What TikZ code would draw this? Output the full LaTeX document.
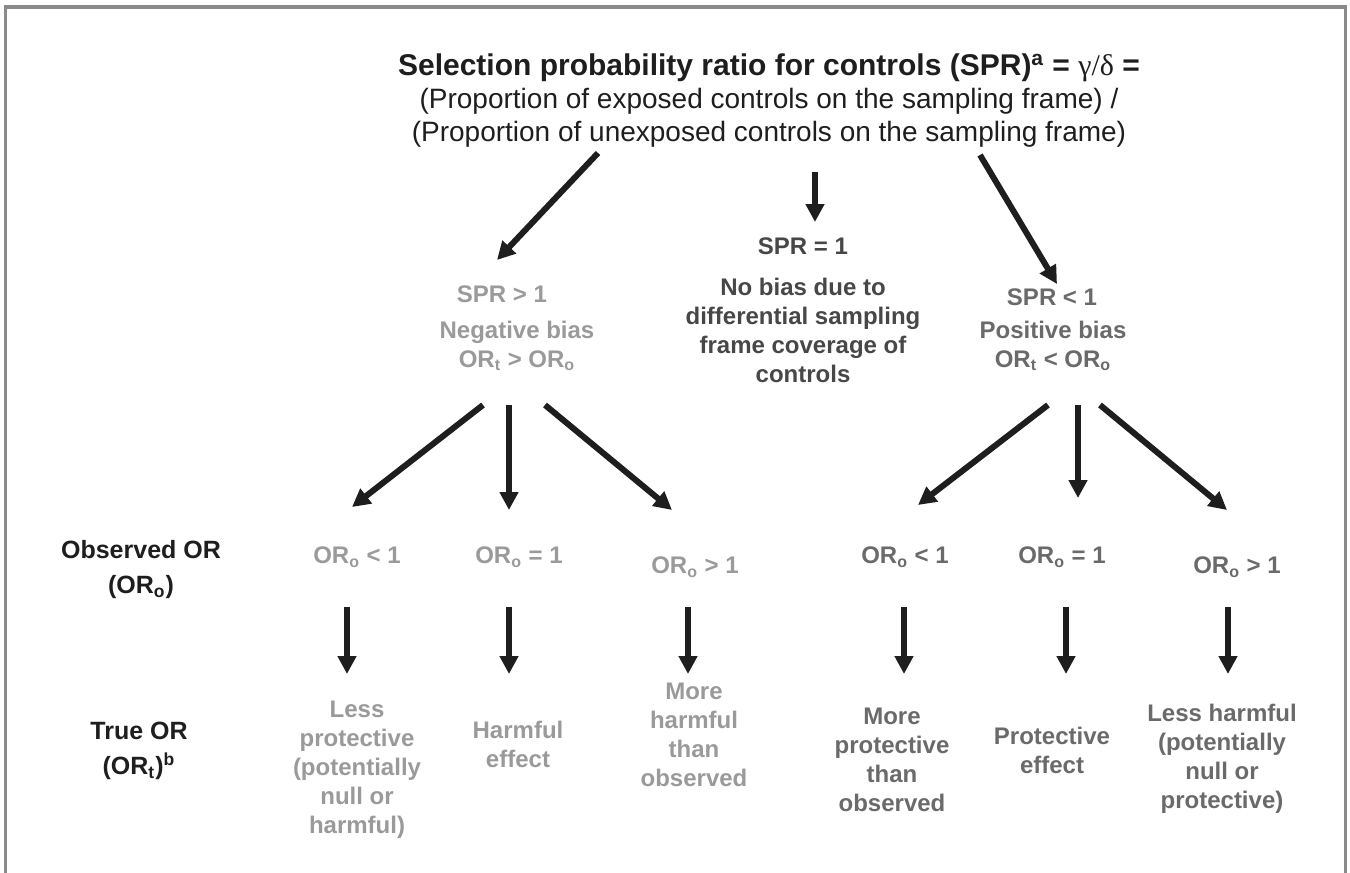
\documentclass[tikz,border=0pt]{standalone}
\usepackage{fontspec}
\setmainfont{Liberation Sans}
\newfontfamily\grk{Liberation Serif}
\usepackage{tikz}
\usetikzlibrary{arrows.meta}
\definecolor{inkc}{HTML}{1E1E1E}
\definecolor{midc}{HTML}{474747}
\definecolor{darkc}{HTML}{6A6A6A}
\definecolor{lightc}{HTML}{9A9A9A}
\definecolor{framec}{HTML}{8A8A8A}

\begin{document}
\begin{tikzpicture}[x=0.5pt, y=-0.5pt, >={Triangle[width=9pt,length=9pt]},
    lbl/.style={font=\bfseries\fontsize{12}{14.5}\selectfont, align=center, inner sep=0pt},
    rowlbl/.style={lbl, font=\bfseries\fontsize{12.5}{17.5}\selectfont, text=inkc},
    arr/.style={->, line width=3pt, draw=inkc}]
    \useasboundingbox (0,0) rectangle (1350,873);
    \draw[framec, line width=1.8pt] (5.5,873) -- (5.5,7) -- (1345.5,7) -- (1345.5,873);

    \node(title)[align=center, inner sep=0pt, text=inkc, font=\fontsize{14}{16.5}\selectfont] at (769,101)
        {{\bfseries\fontsize{15}{16.5}\selectfont Selection probability ratio for controls (SPR)\textsuperscript{a} = {\mdseries\grk γ/δ} =}\\
         (Proportion of exposed controls on the sampling frame) /\\
         (Proportion of unexposed controls on the sampling frame)};

    % second level
    \node(spr-gt)[lbl, text=lightc] at (502,294) {SPR > 1};
    \node(neg)[lbl, text=lightc] at (517,346) {Negative bias\\OR\textsubscript{t} > OR\textsubscript{o}};
    \node(spr-eq)[lbl, text=midc] at (803,246) {SPR = 1};
    \node(nobias)[lbl, text=midc] at (803,330)
        {No bias due to\\differential sampling\\frame coverage of\\controls};
    \node(spr-lt)[lbl, text=darkc] at (1052,297) {SPR < 1};
    \node(pos)[lbl, text=darkc] at (1053,346) {Positive bias\\OR\textsubscript{t} < OR\textsubscript{o}};

    % row labels
    \node(obs)[rowlbl] at (141,570) {Observed OR\\(OR\textsubscript{o})};
    \node(true)[rowlbl] at (139,751) {True OR\\(OR\textsubscript{t})\textsuperscript{b}};

    % observed OR
    \node(n-lt)[lbl, text=lightc] at (357,557) {OR\textsubscript{o} < 1};
    \node(n-eq)[lbl, text=lightc] at (519,557) {OR\textsubscript{o} = 1};
    \node(n-gt)[lbl, text=lightc] at (695,567) {OR\textsubscript{o} > 1};
    \node(p-lt)[lbl, text=darkc] at (905,557) {OR\textsubscript{o} < 1};
    \node(p-eq)[lbl, text=darkc] at (1062,557) {OR\textsubscript{o} = 1};
    \node(p-gt)[lbl, text=darkc] at (1237,567) {OR\textsubscript{o} > 1};

    % true OR
    \node(n-less)[lbl, text=lightc] at (357,770) {Less\\protective\\(potentially\\null or\\harmful)};
    \node(n-harm)[lbl, text=lightc] at (518,744) {Harmful\\effect};
    \node(n-more)[lbl, text=lightc] at (694,735) {More\\harmful\\than\\observed};
    \node(p-more)[lbl, text=darkc] at (892,760) {More\\protective\\than\\observed};
    \node(p-prot)[lbl, text=darkc] at (1052,750) {Protective\\effect};
    \node(p-less)[lbl, text=darkc] at (1222,759) {Less harmful\\(potentially\\null or\\protective)};

    \draw[arr] ([shift={(-171,52)}]title.center) -- ([shift={(-5,-34)}]spr-gt.center);
    \draw[arr] ([shift={(46,71)}]title.center) -- ([shift={(12,-24)}]spr-eq.center);
    \draw[arr] ([shift={(211,54)}]title.center) -- ([shift={(5,-13)}]spr-lt.center);

    \draw[arr] ([shift={(-34,59)}]neg.center) -- ([shift={(-5,-50)}]n-lt.center);
    \draw[arr] ([shift={(-8,59)}]neg.center) -- ([shift={(-10,-47)}]n-eq.center);
    \draw[arr] ([shift={(28,59)}]neg.center) -- ([shift={(-23,-57)}]n-gt.center);
    \draw[arr] ([shift={(-5,59)}]pos.center) -- ([shift={(13,-52)}]p-lt.center);
    \draw[arr] ([shift={(25,59)}]pos.center) -- ([shift={(16,-59)}]p-eq.center);
    \draw[arr] ([shift={(47,59)}]pos.center) -- ([shift={(-10,-57)}]p-gt.center);

    \draw[arr] ([shift={(-10,50)}]n-lt.center) -- ([shift={(-10,-96)}]n-less.center);
    \draw[arr] ([shift={(-10,50)}]n-eq.center) -- ([shift={(-9,-70)}]n-harm.center);
    \draw[arr] ([shift={(-7,40)}]n-gt.center) -- ([shift={(-6,-61)}]n-more.center);
    \draw[arr] ([shift={(-1,50)}]p-lt.center) -- ([shift={(12,-86)}]p-more.center);
    \draw[arr] ([shift={(4,50)}]p-eq.center) -- ([shift={(14,-76)}]p-prot.center);
    \draw[arr] ([shift={(-9,40)}]p-gt.center) -- ([shift={(6,-85)}]p-less.center);
\end{tikzpicture}
\end{document}
